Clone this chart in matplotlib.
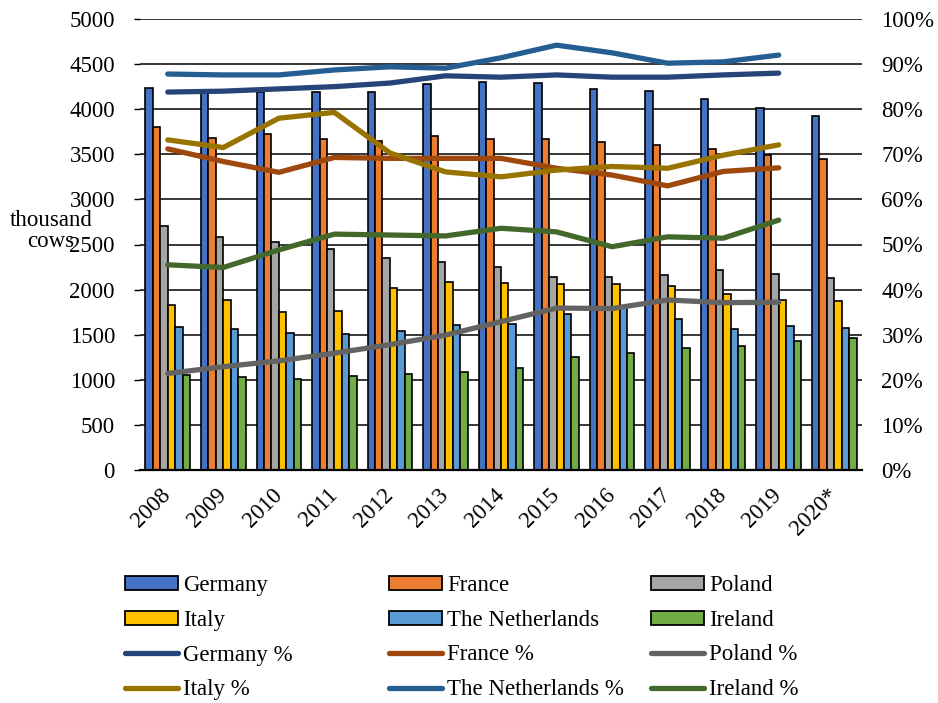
import numpy as np
import matplotlib
matplotlib.use("Agg")
import matplotlib.pyplot as plt
from matplotlib.lines import Line2D
from matplotlib.patches import Patch

plt.rcParams["font.family"] = ["Liberation Serif", "DejaVu Serif"]

years = ["2008", "2009", "2010", "2011", "2012", "2013", "2014",
         "2015", "2016", "2017", "2018", "2019", "2020*"]
countries = ["Germany", "France", "Poland", "Italy", "The Netherlands", "Ireland"]

# dairy cow herds, thousand head
germany = [4232, 4195, 4190, 4195, 4190, 4276, 4305, 4294, 4224, 4206, 4110, 4017, 3925]
france = [3799, 3677, 3721, 3670, 3651, 3703, 3670, 3670, 3640, 3603, 3559, 3492, 3445]
poland = [2705, 2587, 2531, 2450, 2350, 2306, 2251, 2140, 2136, 2158, 2221, 2173, 2132]
italy = [1829, 1885, 1748, 1759, 2014, 2081, 2077, 2062, 2066, 2044, 1948, 1885, 1877]
netherlands = [1589, 1567, 1523, 1508, 1545, 1604, 1615, 1726, 1794, 1674, 1560, 1596, 1578]
ireland = [1053, 1028, 1013, 1042, 1064, 1086, 1134, 1249, 1301, 1349, 1378, 1434, 1463]

# shares in %, 2008-2019 only
germany_pct = [83.8, 84.0, 84.5, 85.0, 85.8, 87.4, 87.1, 87.6, 87.1, 87.1, 87.6, 88.0]
france_pct = [71.2, 68.4, 66.0, 69.3, 69.1, 69.1, 69.1, 66.9, 65.4, 63.0, 66.2, 67.0]
poland_pct = [21.4, 22.9, 24.2, 25.9, 27.8, 29.9, 32.9, 35.9, 35.8, 37.7, 37.1, 37.2]
italy_pct = [73.2, 71.5, 78.0, 79.3, 70.3, 66.1, 65.0, 66.5, 67.3, 66.9, 69.8, 72.1]
netherlands_pct = [87.8, 87.6, 87.6, 88.7, 89.4, 89.1, 91.4, 94.2, 92.5, 90.2, 90.5, 92.0]
ireland_pct = [45.5, 44.9, 48.8, 52.3, 52.1, 51.9, 53.6, 52.8, 49.5, 51.7, 51.4, 55.4]

bar_cols = ["#4472C4", "#ED7D31", "#A5A5A5", "#FFC000", "#5B9BD5", "#70AD47"]
line_cols = ["#264478", "#9E480E", "#636363", "#997300", "#255E91", "#43682B"]

FS = 16.5

fig = plt.figure(figsize=(9.38, 7.03), dpi=100)
ax = fig.add_axes([140 / 938, 1 - 470 / 703, 722 / 938, 451 / 703])
ax2 = ax.twinx()

x = np.arange(len(years))
w = 0.134
for i, (vals, c) in enumerate(zip([germany, france, poland, italy, netherlands, ireland], bar_cols)):
    ax.bar(x + (i - 2.5) * w, vals, w, color=c, edgecolor="black", linewidth=1.2, zorder=2)

ax.set_xlim(-0.5, len(years) - 0.5)
ax.set_ylim(0, 5000)
ax.set_yticks(np.arange(0, 5001, 500))
ax.yaxis.grid(True, color="black", lw=1.1)
ax.set_axisbelow(True)
for s in ("left", "right", "top"):
    ax.spines[s].set_visible(False)
ax.spines["bottom"].set_linewidth(1.6)
ax.tick_params(axis="y", length=4, width=1, pad=14, labelsize=FS)
ax.tick_params(axis="x", length=0, pad=16)
ax.set_xticks(x)
ax.set_xticklabels(years, rotation=45, ha="right", va="center",
                   rotation_mode="anchor", fontsize=FS)

xl = x[:12]
for vals, c in zip([germany_pct, france_pct, poland_pct, italy_pct, netherlands_pct, ireland_pct], line_cols):
    ax2.plot(xl, vals, color=c, lw=3.8, solid_capstyle="round", solid_joinstyle="round")
ax2.set_ylim(0, 100)
ax2.set_yticks(np.arange(0, 101, 10))
ax2.set_yticklabels([f"{v}%" for v in range(0, 101, 10)])
ax2.tick_params(axis="y", length=0, pad=14, labelsize=FS)
for s in ("left", "right", "top", "bottom"):
    ax2.spines[s].set_visible(False)

fig.text(51 / 938, 1 - 231 / 703, "thousand\ncows", ha="center", va="center",
         fontsize=FS, linespacing=1.0)

# three legend columns placed at fixed positions
handles = [Patch(facecolor=c, edgecolor="black", linewidth=1.3) for c in bar_cols]
handles += [Line2D([], [], color=c, lw=3.8, solid_capstyle="round") for c in line_cols]
labels = countries + [f"{n} %" for n in countries]
col_x = [125, 389, 651]
for j in range(3):
    idx = [j, j + 3, j + 6, j + 9]
    fig.legend([handles[k] for k in idx], [labels[k] for k in idx],
               loc="upper left", bbox_to_anchor=(col_x[j] / 938, 1 - 575 / 703),
               frameon=False, fontsize=FS, borderpad=0, borderaxespad=0,
               handlelength=2.3, handleheight=0.55, handletextpad=0.25,
               labelspacing=0.6)

fig.savefig("out.png", dpi=100)
